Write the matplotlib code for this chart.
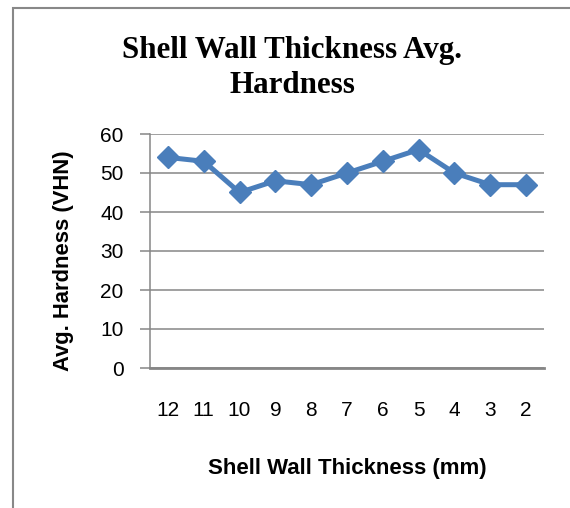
import matplotlib.pyplot as plt
from matplotlib.patches import Rectangle

# Data
thickness = ["12", "11", "10", "9", "8", "7", "6", "5", "4", "3", "2"]
hardness = [54, 53, 45, 48, 47, 50, 53, 56, 50, 47, 47]
yticks = [0, 10, 20, 30, 40, 50, 60]

sans = ["Liberation Sans Narrow", "Liberation Sans", "DejaVu Sans"]

fig = plt.figure(figsize=(5.7, 5.08), dpi=100)
ax = fig.add_axes([150 / 570, 1 - 368 / 508, 394 / 570, 234 / 508])

x = range(len(thickness))
ax.plot(x, hardness, color="#4A7EBB", lw=3.6, marker="D", ms=11,
        markeredgecolor="#4A7EBB", zorder=3, clip_on=False)

# Axes
ax.set_xlim(-0.5, len(thickness) - 0.5)
ax.set_ylim(0, 60)
ax.set_yticks(yticks)
ax.set_xticks(list(x))
ax.set_xticklabels(thickness)
ax.grid(axis="y", color="#868686", lw=1.1)
ax.set_axisbelow(True)
for s in ["top", "right"]:
    ax.spines[s].set_visible(False)
ax.spines["left"].set_color("#868686")
ax.spines["left"].set_linewidth(1.1)
ax.spines["bottom"].set_color("#868686")
ax.spines["bottom"].set_linewidth(2)
ax.tick_params(axis="y", length=7, width=1.1, color="#868686", pad=12,
               labelsize=15)
ax.tick_params(axis="x", length=0, pad=24, labelsize=15)
for lab in ax.get_xticklabels() + ax.get_yticklabels():
    lab.set_family(sans)

# Labels
ax.set_xlabel("Shell Wall Thickness (mm)", fontsize=16, fontweight="bold",
              family=sans, va="center")
ax.xaxis.set_label_coords(0.5, (368 - 468) / 234)
ax.set_ylabel("Avg. Hardness (VHN)", fontsize=15.8, fontweight="bold",
              family=sans, va="center")
ax.yaxis.set_label_coords((64 - 150) / 394, (368 - 261) / 234)

# Title
fig.text(292 / 570, 1 - 58 / 508, "Shell Wall Thickness Avg.",
         family="Liberation Serif", fontweight="bold", fontsize=22.3,
         ha="center", va="baseline")
fig.text(292 / 570, 1 - 93 / 508, "Hardness",
         family="Liberation Serif", fontweight="bold", fontsize=22.3,
         ha="center", va="baseline")

# Chart area border
fig.patches.append(Rectangle((13 / 570, -0.1), 1.2, 1.1 - 8 / 508,
                             transform=fig.transFigure, fill=False,
                             edgecolor="#888888", lw=1.5))

plt.savefig("out.png", dpi=100)
